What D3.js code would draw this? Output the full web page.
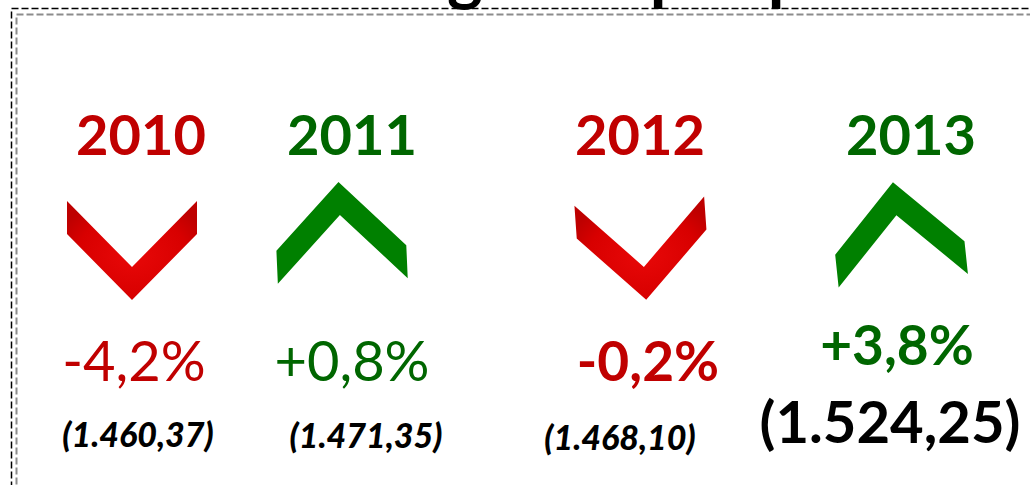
<!DOCTYPE html>
<html>
<head>
<meta charset="utf-8">
<script src="https://cdn.jsdelivr.net/npm/d3@7"></script>
<style>
  html, body { margin: 0; padding: 0; background: #fff; overflow: hidden; }
  svg { display: block; font-family: Lato, "Open Sans", sans-serif; }
</style>
</head>
<body>
<svg id="chart" width="1030" height="485"></svg>
<script>
// dados
const years = ['2010', '2011', '2012', '2013'];
const changes = [-4.2, 0.8, -0.2, 3.8];        // variação anual (%)
const values = [1460.37, 1471.35, 1468.10, 1524.25];
const titleText = 'Rendimento ganho por pessoa';

// locale pt-BR para os números
const br = d3.formatLocale({ decimal: ',', thousands: '.', grouping: [3], currency: ['R$', ''] });
const fmtPct = br.format('+.1f');
const fmtVal = br.format(',.2f');

const RED = '#C00000', GREEN = '#006600';

// estilo por coluna (destaques do slide)
const pctBold = [false, false, true, true];
const pctBase = [381, 381, 381, 365];
const valBig = [false, false, false, true];
const valBase = [447, 448, 450, 443];
const chevTilt = [0, -2.5, -4, -6];

const svg = d3.select('#chart');
const W = 1030, H = 485;

// posições horizontais de cada linha
const yearX = d3.scaleOrdinal().domain(years).range([141, 352, 640, 911]);
const chevX = d3.scaleOrdinal().domain(years).range([132, 341, 642, 899]);
const pctX = d3.scaleOrdinal().domain(years).range([134, 352, 648, 897]);
const valX = d3.scaleOrdinal().domain(years).range([138, 366, 620, 890]);

const rows = years.map((y, i) => ({ year: y, change: changes[i], value: values[i], i }));

// gradiente do vermelho
const defs = svg.append('defs');
const grad = defs.append('radialGradient').attr('id', 'redGrad')
  .attr('cx', '50%').attr('cy', '55%').attr('r', '60%');
grad.append('stop').attr('offset', '0%').attr('stop-color', '#E80808');
grad.append('stop').attr('offset', '70%').attr('stop-color', '#D80000');
grad.append('stop').attr('offset', '100%').attr('stop-color', '#BE0000');

// titulo (cortado no topo, como no slide)
const title = svg.append('text')
  .attr('x', 300).attr('y', -3)
  .attr('font-size', 68).attr('font-weight', 700)
  .attr('fill', '#000')
  .text(titleText);
try {
  const gx = title.node().getStartPositionOfChar(titleText.indexOf('g')).x;
  title.attr('x', 300 + (447 - gx));
} catch (e) { }

// bordas tracejadas
svg.append('rect')
  .attr('x', 11.5).attr('y', 8.5).attr('width', W + 20).attr('height', H + 20)
  .attr('fill', 'none').attr('stroke', '#000').attr('stroke-width', 1.5)
  .attr('stroke-dasharray', '7,3');
svg.append('rect')
  .attr('x', 16.5).attr('y', 14.5).attr('width', W + 20).attr('height', H + 20)
  .attr('fill', 'none').attr('stroke', '#8c8c8c').attr('stroke-width', 2)
  .attr('stroke-dasharray', '7,3');

// anos
svg.selectAll('text.year')
  .data(rows)
  .enter().append('text')
  .attr('class', 'year')
  .attr('x', d => yearX(d.year))
  .attr('y', 155)
  .attr('text-anchor', 'middle')
  .attr('font-size', 56).attr('font-weight', 700)
  .attr('fill', d => d.change < 0 ? RED : GREEN)
  .text(d => d.year);

// setas (chevron)
function chevron(d) {
  const cx = chevX(d.year), w = 130, depth = 66, t = 33;
  const hw = w / 2;
  let pts;
  if (d.change < 0) {
    const top = 201;
    pts = [[cx - hw, top], [cx, top + depth], [cx + hw, top], [cx + hw, top + t],
      [cx, top + depth + t], [cx - hw, top + t]];
  } else {
    const apex = 182;
    pts = [[cx, apex], [cx + hw, apex + depth], [cx + hw, apex + depth + t],
      [cx, apex + t], [cx - hw, apex + depth + t], [cx - hw, apex + depth]];
  }
  return 'M' + pts.map(p => p.join(',')).join('L') + 'Z';
}

svg.selectAll('path.chev')
  .data(rows)
  .enter().append('path')
  .attr('class', 'chev')
  .attr('d', chevron)
  .attr('transform', d => `rotate(${chevTilt[d.i]},${chevX(d.year)},240)`)
  .attr('fill', d => d.change < 0 ? 'url(#redGrad)' : '#008000');

// variação percentual
svg.selectAll('text.pct')
  .data(rows)
  .enter().append('text')
  .attr('class', 'pct')
  .attr('x', d => pctX(d.year))
  .attr('y', d => pctBase[d.i])
  .attr('text-anchor', 'middle')
  .attr('font-size', d => pctBold[d.i] ? 55 : 56)
  .attr('font-weight', d => pctBold[d.i] ? 700 : 400)
  .attr('fill', d => d.change < 0 ? RED : GREEN)
  .text(d => (d.change < 0 ? '-' + fmtPct(d.change).slice(1) : fmtPct(d.change)) + '%');

// valores absolutos
svg.selectAll('text.val')
  .data(rows)
  .enter().append('text')
  .attr('class', 'val')
  .attr('x', d => valX(d.year))
  .attr('y', d => valBase[d.i])
  .attr('text-anchor', 'middle')
  .attr('font-size', d => valBig[d.i] ? 58 : 34)
  .attr('font-weight', d => valBig[d.i] ? 700 : 900)
  .attr('font-style', d => valBig[d.i] ? 'normal' : 'italic')
  .attr('fill', '#000')
  .text(d => '(' + fmtVal(d.value) + ')');
</script>
</body>
</html>
